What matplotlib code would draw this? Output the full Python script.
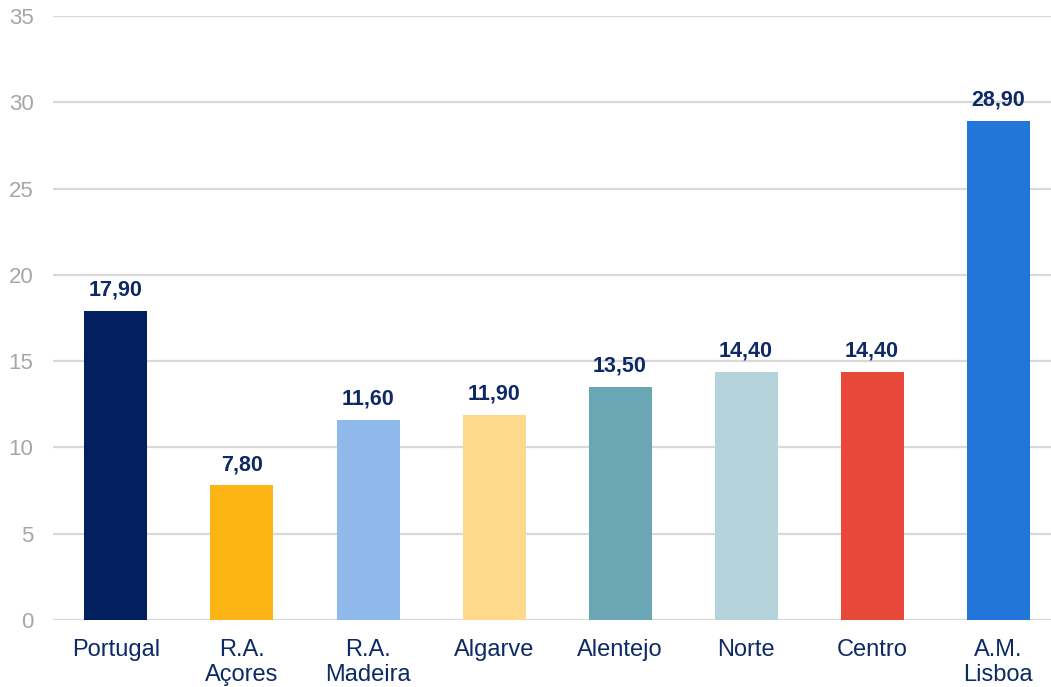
import matplotlib.pyplot as plt

plt.rcParams['font.family'] = ['Liberation Sans', 'DejaVu Sans']

regions = ['Portugal', 'R.A.\nAçores', 'R.A.\nMadeira', 'Algarve', 'Alentejo', 'Norte', 'Centro', 'A.M.\nLisboa']
values = [17.9, 7.8, 11.6, 11.9, 13.5, 14.4, 14.4, 28.9]
colors = ['#022060', '#FDB515', '#8FB9EA', '#FED98B', '#6BA6B4', '#B5D3DA', '#E7483A', '#2276D9']

fig = plt.figure(figsize=(10.51, 6.87), dpi=100)
ax = fig.add_axes([0.0504, 0.0975, 0.9496, 0.8792])

x = range(len(regions))
ax.bar(x, values, width=0.5, color=colors, zorder=3)

for i, v in enumerate(values):
    ax.text(i, v + 0.6, f'{v:.2f}'.replace('.', ','), ha='center', va='bottom',
            fontsize=15.5, fontweight='bold', color='#0D2A66')

ax.set_ylim(0, 35)
ax.set_xlim(-0.5, 7.42)
ax.set_yticks(range(0, 36, 5))
ax.set_xticks(list(x))
ax.set_xticklabels(regions, fontsize=17, color='#0D2A66', linespacing=1.12)
ax.tick_params(axis='y', labelsize=16, labelcolor='#A6A6A6', length=0, pad=14)
ax.tick_params(axis='x', length=0, pad=14)
ax.yaxis.grid(True, color='#D9D9D9', linewidth=1.6, zorder=0)
for s in ax.spines.values():
    s.set_visible(False)

fig.savefig('out.png', dpi=100)
